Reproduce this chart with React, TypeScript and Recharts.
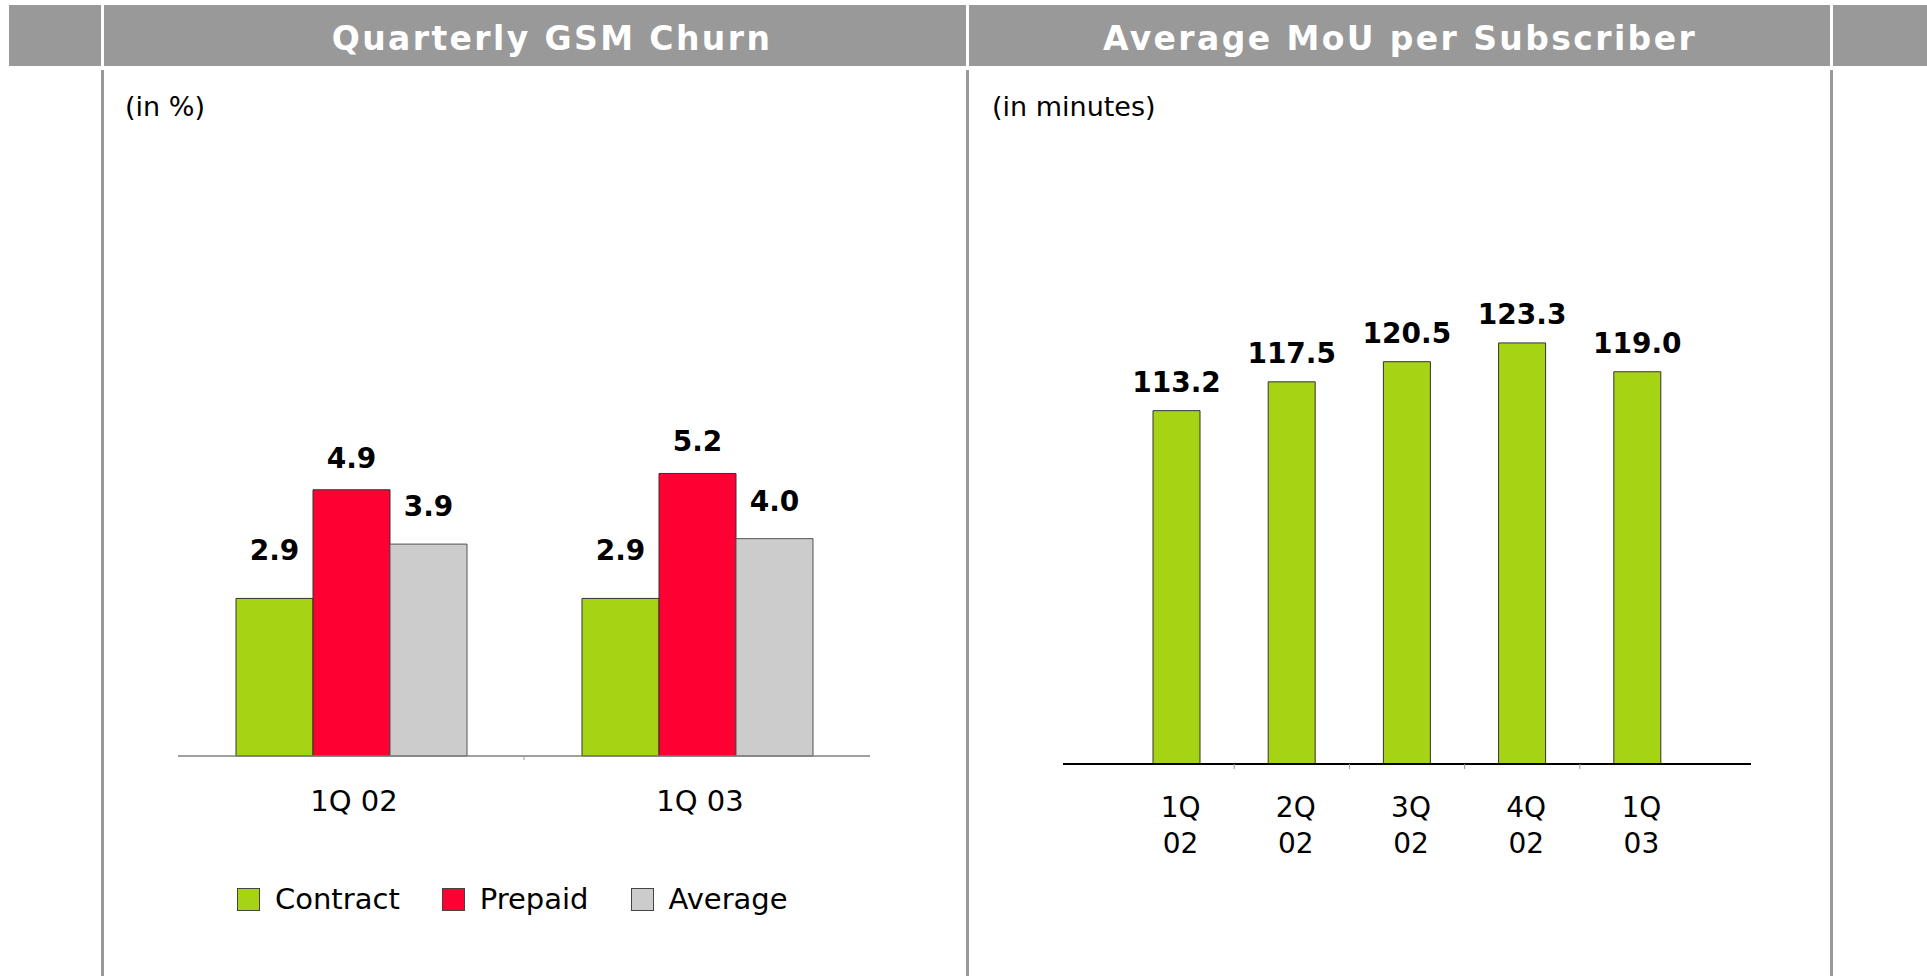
import React from "react"
import { BarChart, Bar, XAxis, YAxis, LabelList, Legend } from "recharts"

// left panel: quarterly GSM churn (in %)
const churnQuarters = ["1Q 02", "1Q 03"]
const contractChurn = [2.9, 2.9]
const prepaidChurn = [4.9, 5.2]
const averageChurn = [3.9, 4.0]
const churnSeries = ["Contract", "Prepaid", "Average"]

// right panel: average MoU per subscriber (in minutes)
const mouQuarters = ["1Q 02", "2Q 02", "3Q 02", "4Q 02", "1Q 03"]
const mouValues = [113.2, 117.5, 120.5, 123.3, 119.0]

const FONT = "'DejaVu Sans', Verdana, sans-serif"
const GREEN = "#A6D414"
const RED = "#FF0033"
const GREY_BAR = "#CCCCCC"
const HEADER_GREY = "#999999"
const seriesColors = [GREEN, RED, GREY_BAR]

const churnData = churnQuarters.map((q, i) => ({
  quarter: q,
  contract: contractChurn[i],
  prepaid: prepaidChurn[i],
  average: averageChurn[i],
}))

const mouData = mouQuarters.map((q, i) => ({ quarter: q, mou: mouValues[i] }))

// chart boxes
const CHURN_W = 750
const CHURN_H = 520
const CHURN_MARGIN = { top: 30, right: 30, left: 28, bottom: 84 }
const CHURN_BAND = (CHURN_W - CHURN_MARGIN.left - CHURN_MARGIN.right) / churnQuarters.length

const MOU_W = 760
const MOU_H = 640
const MOU_MARGIN = { top: 38, right: 39, left: 33, bottom: 36 }
const MOU_PAD = 56
const MOU_BAND = (MOU_W - MOU_MARGIN.left - MOU_MARGIN.right - 2 * MOU_PAD) / mouQuarters.length

const fmt = (v: any) => Number(v).toFixed(1)

const ChurnTick = ({ x, y, payload, index }: any) => (
  <g>
    {index > 0 && (
      <line x1={x - CHURN_BAND / 2} x2={x - CHURN_BAND / 2} y1={y} y2={y + 4} stroke="#999" strokeWidth={1} />
    )}
    <text x={x + 3} y={y + 55} textAnchor="middle" fontFamily={FONT} fontSize={29} fill="#000">
      {payload.value}
    </text>
  </g>
)

const MouTick = ({ x, y, payload, index }: any) => {
  const [q, yr] = String(payload.value).split(" ")
  return (
    <g>
      {index > 0 && (
        <line x1={x - MOU_BAND / 2} x2={x - MOU_BAND / 2} y1={y} y2={y + 5} stroke="#999" strokeWidth={1} />
      )}
      <text x={x + 4} y={y + 53} textAnchor="middle" fontFamily={FONT} fontSize={28} fill="#000">
        {q}
      </text>
      <text x={x + 4} y={y + 89} textAnchor="middle" fontFamily={FONT} fontSize={28} fill="#000">
        {yr}
      </text>
    </g>
  )
}

const ChurnLegend = () => (
  <div style={{ display: "flex", alignItems: "center", fontFamily: FONT, fontSize: 29, lineHeight: "29px" }}>
    {churnSeries.map((name, i) => (
      <div key={name} style={{ display: "flex", alignItems: "center", marginRight: 42 }}>
        <span
          style={{
            display: "inline-block",
            width: 21,
            height: 21,
            background: seriesColors[i],
            border: "1px solid #444",
            marginRight: 15,
          }}
        />
        <span style={{ color: "#000" }}>{name}</span>
      </div>
    ))}
  </div>
)

const labelProps = { fill: "#000", fontSize: 28, fontWeight: 700, fontFamily: FONT }

const headerSegments = [
  [9, 101],
  [104, 966],
  [969, 1830],
  [1833, 1927],
]
const dividers = [101, 966, 1830]

const titleStyle: React.CSSProperties = {
  position: "absolute",
  top: 22,
  fontFamily: FONT,
  fontWeight: 700,
  fontSize: 33,
  lineHeight: "33px",
  letterSpacing: 2.4,
  color: "#fff",
  whiteSpace: "nowrap",
  transform: "translateX(-50%)",
}

const subStyle: React.CSSProperties = {
  position: "absolute",
  top: 93,
  fontFamily: FONT,
  fontSize: 27,
  lineHeight: "27px",
  color: "#000",
  whiteSpace: "nowrap",
}

export default function App() {
  return (
    <div style={{ position: "absolute", left: 0, top: 0, width: 1927, height: 976, background: "#fff", overflow: "hidden" }}>
      {headerSegments.map(([a, b]) => (
        <div key={a} style={{ position: "absolute", left: a, top: 5, width: b - a, height: 61, background: HEADER_GREY }} />
      ))}
      {dividers.map((x) => (
        <div key={x} style={{ position: "absolute", left: x, top: 70, width: 3, height: 906, background: HEADER_GREY }} />
      ))}
      <div style={{ ...titleStyle, left: 552 }}>Quarterly GSM Churn</div>
      <div style={{ ...titleStyle, left: 1400 }}>Average MoU per Subscriber</div>
      <div style={{ ...subStyle, left: 125 }}>(in %)</div>
      <div style={{ ...subStyle, left: 992 }}>(in minutes)</div>

      <div style={{ position: "absolute", left: 150, top: 400 }}>
        <BarChart width={CHURN_W} height={CHURN_H} data={churnData} margin={CHURN_MARGIN} barGap={0}>
          <XAxis
            dataKey="quarter"
            height={80}
            interval={0}
            axisLine={{ stroke: "#808080", strokeWidth: 1.5 }}
            tickLine={false}
            tickSize={0}
            tickMargin={0}
            tick={<ChurnTick />}
          />
          <YAxis hide domain={[0, 6]} />
          <Legend
            verticalAlign="middle"
            align="center"
            content={<ChurnLegend />}
            wrapperStyle={{ top: 485, left: 87, width: 650, height: 29 }}
          />
          <Bar dataKey="contract" name="Contract" fill={GREEN} stroke="#333" strokeWidth={1} barSize={77} isAnimationActive={false}>
            <LabelList dataKey="contract" position="top" offset={38} formatter={fmt} {...labelProps} />
          </Bar>
          <Bar dataKey="prepaid" name="Prepaid" fill={RED} stroke="#333" strokeWidth={1} barSize={77} isAnimationActive={false}>
            <LabelList dataKey="prepaid" position="top" offset={22} formatter={fmt} {...labelProps} />
          </Bar>
          <Bar dataKey="average" name="Average" fill={GREY_BAR} stroke="#555" strokeWidth={1} barSize={77} isAnimationActive={false}>
            <LabelList dataKey="average" position="top" offset={28} formatter={fmt} {...labelProps} />
          </Bar>
        </BarChart>
      </div>

      <div style={{ position: "absolute", left: 1030, top: 260 }}>
        <BarChart width={MOU_W} height={MOU_H} data={mouData} margin={MOU_MARGIN}>
          <XAxis
            dataKey="quarter"
            height={100}
            interval={0}
            padding={{ left: MOU_PAD, right: MOU_PAD }}
            axisLine={{ stroke: "#000", strokeWidth: 2 }}
            tickLine={false}
            tickSize={0}
            tickMargin={0}
            tick={<MouTick />}
          />
          <YAxis hide domain={[60.5, 130]} allowDataOverflow />
          <Bar dataKey="mou" fill={GREEN} stroke="#333" strokeWidth={1} barSize={47} isAnimationActive={false}>
            <LabelList dataKey="mou" position="top" offset={19} formatter={fmt} {...labelProps} />
          </Bar>
        </BarChart>
      </div>
    </div>
  )
}
